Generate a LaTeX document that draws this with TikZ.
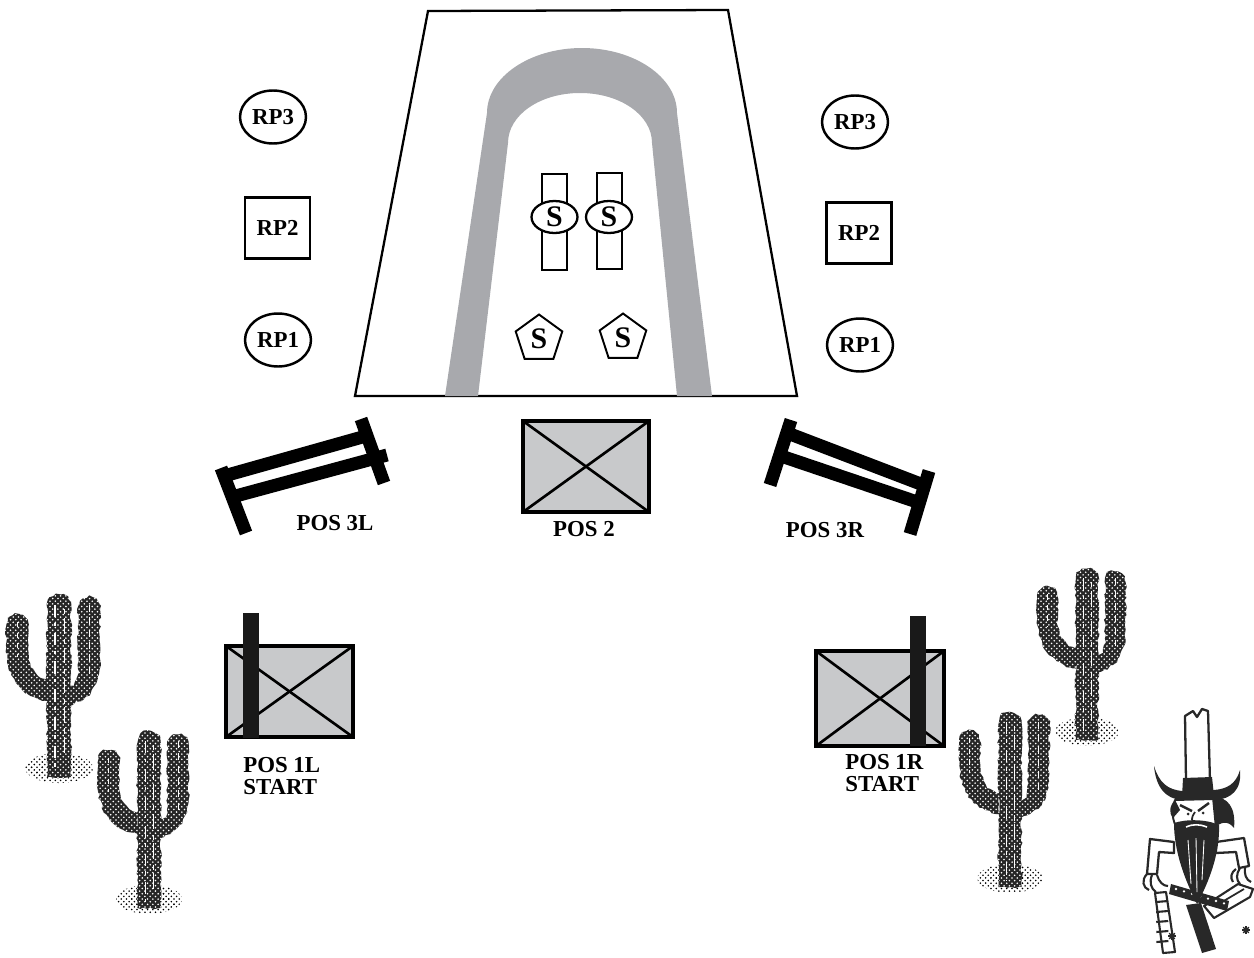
\documentclass[tikz,border=0pt]{standalone}
\usepackage{fontspec}
\setmainfont{Liberation Serif}
\usetikzlibrary{shapes.geometric,patterns,decorations.pathmorphing}
\definecolor{trackgray}{RGB}{168,169,173}
\definecolor{boxgray}{RGB}{200,201,203}
\definecolor{ink}{RGB}{40,40,40}

\tikzset{
  saguaro/.pic={
    % ground scrub round the foot
    \fill[pattern=crosshatch dots, pattern color=black] (0,-9) ellipse [x radius=34, y radius=15];
    \fill[pattern=dots, pattern color=black, decorate, decoration={random steps, segment length=2pt, amplitude=1pt}]
       (-26,-4) -- (-14,-20) -- (14,-20) -- (28,-4) -- cycle;
    % trunk and arms
    \path[cact] (-12,0) -- (-12,-170) .. controls (-12,-187) and (12,-187) .. (12,-170) -- (12,0) -- cycle;
    \path[cact] (-11,-76) .. controls (-38,-80) and (-53,-100) .. (-53,-132) -- (-53,-150)
       .. controls (-53,-167) and (-31,-167) .. (-31,-150) -- (-31,-128)
       .. controls (-31,-110) and (-22,-100) .. (-11,-98) -- cycle;
    \path[cact] (11,-72) .. controls (32,-78) and (41,-92) .. (41,-118) -- (41,-168)
       .. controls (41,-184) and (19,-184) .. (19,-168) -- (19,-108)
       .. controls (19,-96) and (16,-92) .. (11,-92) -- cycle;
    % light streaks along the ribs
    \draw[white, line width=0.7pt, dash pattern=on 7pt off 3pt on 2pt off 4pt] (-4,-172) -- (-4,-6);
    \draw[white, line width=0.5pt, dash pattern=on 3pt off 2pt on 9pt off 3pt] (5,-168) -- (5,-20);
    \draw[white, line width=0.5pt, dash pattern=on 4pt off 3pt] (30,-172) -- (30,-100);
    \draw[white, line width=0.5pt, dash pattern=on 3pt off 3pt] (-42,-155) -- (-42,-120);
  },
  cact/.style={fill=black!85, decorate, decoration={random steps, segment length=2pt, amplitude=0.7pt},
    postaction={pattern=crosshatch dots, pattern color=white}},
  lbl/.style={font=\bfseries\fontsize{13}{12.8}\selectfont, inner sep=0pt},
  rpoval/.style={ellipse, draw, line width=1.4pt, minimum width=1.32cm, minimum height=1.06cm,
    inner sep=0pt, font=\bfseries\fontsize{13}{13}\selectfont},
  rpsquare/.style={rectangle, draw, line width=1.4pt, minimum width=1.3cm, minimum height=1.22cm,
    inner sep=0pt, font=\bfseries\fontsize{13}{13}\selectfont},
  sbar/.style={rectangle, draw, line width=1.3pt, fill=white, minimum width=0.5cm,
    minimum height=1.92cm, inner sep=0pt},
  soval/.style={ellipse, draw, line width=1.3pt, fill=white, minimum width=0.92cm,
    minimum height=0.64cm, inner sep=0pt, font=\bfseries\fontsize{17}{17}\selectfont},
  spent/.style={regular polygon, regular polygon sides=5, draw, line width=1.1pt, fill=white,
    minimum size=0.98cm, inner sep=0pt, font=\bfseries\fontsize{17}{17}\selectfont},
  rail/.style={line width=7.4pt},
  xbox/.style={rectangle, draw, fill=boxgray, inner sep=0pt, outer sep=0pt},
  xdiag/.style={line width=1.5pt},
  startbar/.style={rectangle, fill=black!90, inner sep=0pt},
}

\begin{document}
\begin{tikzpicture}[x=0.02cm, y=-0.02cm]
\useasboundingbox (0,0) rectangle (1254,957);

% ---- target area ----
\draw[line width=1.3pt] (428,11) -- (728,10) -- (797,396) -- (355,396) -- cycle;
\fill[trackgray] (445,396) -- (487,113)
   .. controls (487,77) and (530,48) .. (582,48)
   .. controls (634,48) and (677,77) .. (677,113)
   -- (712,396) -- (677,396) -- (652,143)
   .. controls (652,115) and (620,93) .. (580,93)
   .. controls (540,93) and (508,115) .. (508,143)
   -- (478,396) -- cycle;

\node[sbar] (barL) at (554.5,222) {};
\node[sbar] (barR) at (609.5,221) {};
\node[soval] (s1) at (554.5,217) {S};
\node[soval] (s2) at (609,217) {S};
\node[spent] (p1) at (539,339) {S};
\node[spent] (p2) at (623,338) {S};

% ---- reference points ----
\node[rpoval]   (rp3l) at (273,117) {RP3};
\node[rpsquare] (rp2l) at (277.5,228) {RP2};
\node[rpoval]   (rp1l) at (278,340) {RP1};
\node[rpoval]   (rp3r) at (855,122) {RP3};
\node[rpsquare] (rp2r) at (859,233) {RP2};
\node[rpoval]   (rp1r) at (860,345) {RP1};

% ---- fences ----
\draw[rail] (224,476) -- (366,436);
\draw[rail] (232,497) -- (387,455);
\draw[rail] (221,468) -- (246,533);
\draw[rail] (361,419) -- (384,483);
\node[lbl] (pos3l) at (335,523) {POS 3L};

\draw[rail] (790,434) -- (926,486);
\draw[rail] (784,457) -- (923,504);
\draw[rail] (791,420) -- (770,485);
\draw[rail] (929,471) -- (910,534);
\node[lbl] (pos3r) at (825,530) {POS 3R};

% ---- positions ----
\node[xbox, line width=2.8pt, minimum width=2.52cm, minimum height=1.82cm] (pos2box) at (586,466.5) {};
\draw[xdiag] (pos2box.north west) -- (pos2box.south east);
\draw[xdiag] (pos2box.north east) -- (pos2box.south west);
\node[lbl] (pos2) at (584,529) {POS 2};

\node[xbox, line width=2pt, minimum width=2.54cm, minimum height=1.82cm] (pos1lbox) at (289.5,691.5) {};
\draw[xdiag] (pos1lbox.north west) -- (pos1lbox.south east);
\draw[xdiag] (pos1lbox.north east) -- (pos1lbox.south west);
\node[startbar, minimum width=0.32cm, minimum height=2.5cm] (bar1l) at (251,675.5) {};
\node[lbl, align=left, anchor=north west] (pos1l) at (243,757) {POS 1L\\START};

\node[xbox, line width=2pt, minimum width=2.56cm, minimum height=1.9cm] (pos1rbox) at (880,698.5) {};
\draw[xdiag] (pos1rbox.north west) -- (pos1rbox.south east);
\draw[xdiag] (pos1rbox.north east) -- (pos1rbox.south west);
\node[startbar, minimum width=0.32cm, minimum height=2.6cm] (bar1r) at (918,681) {};
\node[lbl, align=left, anchor=north west] (pos1r) at (845,754) {POS 1R\\START};

% ---- cacti ----
\pic at (59,777) {saguaro};
\pic[scale=0.97] at (149,908) {saguaro};
\pic[scale=0.94] at (1087,740) {saguaro};
\pic[scale=0.96] at (1010,887) {saguaro};

% ---- cowboy ----
\begin{scope}[line join=round]
% hat
\filldraw[fill=white, draw=ink, line width=1.3pt] (1186,781) -- (1185,716) -- (1193,711) -- (1197,717) -- (1202,709) -- (1208,711) -- (1210,781) -- cycle;
\fill[ink] (1183,778) -- (1212,777) -- (1214,796) -- (1182,797) -- cycle;
\fill[ink] (1154,766) .. controls (1156,788) and (1166,799) .. (1182,800) -- (1215,800)
   .. controls (1231,799) and (1242,790) .. (1240,770)
   .. controls (1236,784) and (1227,789) .. (1214,790) -- (1183,791)
   .. controls (1167,790) and (1159,782) .. cycle;
% arms
\filldraw[fill=white, draw=ink, line width=1.3pt] (1174,842) -- (1150,839) -- (1147,874) -- (1157,874) -- (1159,852) -- (1174,853) -- cycle;
\filldraw[fill=white, draw=ink, line width=1.3pt] (1216,842) -- (1244,838) -- (1249,866) -- (1239,868) -- (1236,852) -- (1216,853) -- cycle;
% hands
\draw[ink, line width=1.2pt] (1147,874) .. controls (1141,880) and (1143,888) .. (1149,890)
   (1152,875) .. controls (1149,882) and (1151,889) .. (1156,892)
   (1157,875) .. controls (1159,882) and (1163,886) .. (1168,886);
\draw[ink, line width=1.2pt] (1240,868) .. controls (1236,874) and (1236,880) .. (1240,884)
   (1245,867) .. controls (1244,874) and (1246,880) .. (1251,882)
   (1236,869) .. controls (1231,872) and (1230,878) .. (1233,882);
% legs, holster and gun
\filldraw[fill=white, draw=ink, line width=1.2pt] (1155,893) -- (1166,892) -- (1175,952) -- (1163,953) -- cycle;
\foreach \yy in {902,912,922,932,942}
  \draw[ink, line width=1.2pt] (1156+\yy/100-9,\yy) -- (1168+\yy/100-9,\yy-1);
\fill[ink] (1186,905) -- (1201,903) -- (1216,949) -- (1202,953) -- cycle;
\filldraw[fill=white, draw=ink, line width=1.2pt] (1204,906) -- (1238,884) -- (1253,889) -- (1250,897) -- (1214,918) -- cycle;
\draw[ink, line width=1pt] (1222,902) -- (1244,889);
% belt
\fill[ink] (1171,884) -- (1229,901) -- (1227,911) -- (1169,894) -- cycle;
\foreach \k in {0,...,6}
  \fill[white] (1176+8*\k,889+2.4*\k) circle [radius=1.3];
% face and hair
\filldraw[fill=white, draw=ink, line width=1.1pt] (1175,800) .. controls (1170,812) and (1173,827) .. (1182,833) -- (1213,833) .. controls (1219,822) and (1219,808) .. (1215,799) -- cycle;
\fill[ink] (1212,797) .. controls (1228,796) and (1236,808) .. (1234,828) .. controls (1228,820) and (1220,822) .. (1215,828) -- cycle;
\fill[ink] (1175,800) .. controls (1169,806) and (1169,814) .. (1173,818) -- (1180,810) -- cycle;
\draw[ink, line width=1.4pt] (1180,805) -- (1192,811) (1198,811) -- (1209,803);
\fill[ink] (1188,814) circle [radius=1.5] (1203,813) circle [radius=1.5];
\draw[ink, line width=1pt] (1195,812) .. controls (1191,818) and (1190,822) .. (1197,823);
% beard
\fill[ink] (1174,823) .. controls (1186,819) and (1206,819) .. (1219,825)
   .. controls (1220,852) and (1210,880) .. (1197,904)
   .. controls (1185,880) and (1174,852) .. cycle;
\draw[white, line width=0.5pt] (1188,840) -- (1191,884) (1196,838) -- (1197,892) (1204,840) -- (1202,880);
\draw[white, line width=0.9pt] (1186,827) .. controls (1192,824) and (1200,824) .. (1207,827);
% spurs
\foreach \cx/\cy in {1172/936, 1246/930}
  \foreach \a in {0,45,...,135}
    \draw[ink, line width=0.8pt] (\cx,\cy) ++(\a:4) -- ++(\a+180:8);
\end{scope}
\end{tikzpicture}
\end{document}
